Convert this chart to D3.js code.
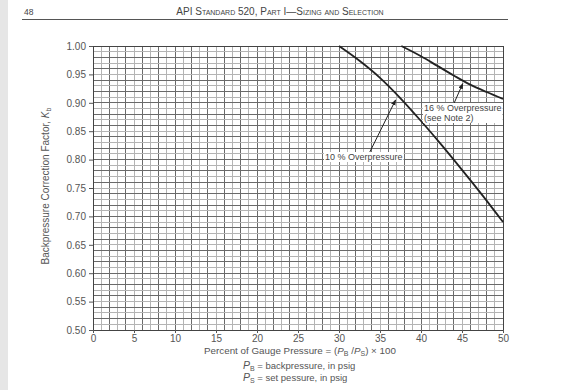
<!DOCTYPE html>
<html>
<head>
<meta charset="utf-8">
<script src="https://cdn.jsdelivr.net/npm/d3@7"></script>
<style>
  body { margin: 0; background: #fff; }
  svg { display: block; font-family: "Liberation Sans", Arial, sans-serif; }
  .tick text { font-size: 10px; fill: #555; }
</style>
</head>
<body>
<div id="chart"></div>
<script>
// chart values
const xTicks = [0, 5, 10, 15, 20, 25, 30, 35, 40, 45, 50];
const yTicks = [0.50, 0.55, 0.60, 0.65, 0.70, 0.75, 0.80, 0.85, 0.90, 0.95, 1.00];
const over10X = [30, 32.5, 35, 37.5, 40, 42.5, 45, 47.5, 50];
const over10Y = [1.0, 0.974, 0.944, 0.908, 0.868, 0.826, 0.782, 0.737, 0.69];
const over16X = [37.6, 40, 42, 44, 46, 48, 50];
const over16Y = [1.0, 0.982, 0.965, 0.948, 0.932, 0.919, 0.907];

const width = 569, height = 390;
const svg = d3.select("#chart").append("svg")
    .attr("width", width)
    .attr("height", height);

// page edge
svg.append("rect").attr("x", 0).attr("y", 0).attr("width", 8).attr("height", height).attr("fill", "#e6e6e6");

// running header
svg.append("text").attr("x", 24).attr("y", 15).attr("font-size", 8.5).attr("fill", "#444").text("48");
svg.append("text").attr("x", 280).attr("y", 15).attr("font-size", 10).attr("fill", "#444")
    .attr("text-anchor", "middle").style("font-variant", "small-caps")
    .text("API Standard 520, Part I\u2014Sizing and Selection");
svg.append("line").attr("x1", 22).attr("x2", 508).attr("y1", 19.5).attr("y2", 19.5)
    .attr("stroke", "#555").attr("stroke-width", 1);

const x = d3.scaleLinear().domain([0, 50]).range([93, 503]);
const y = d3.scaleLinear().domain([0.5, 1.0]).range([330, 46]);

// grid
const grid = svg.append("g").attr("shape-rendering", "crispEdges");
d3.range(1, 50).forEach(function(v) {
    grid.append("line")
        .attr("x1", x(v)).attr("x2", x(v)).attr("y1", y(0.5)).attr("y2", y(1.0))
        .attr("stroke", v % 2 === 0 ? "#6a6a6a" : "#b4b4b4");
});
d3.range(51, 100).forEach(function(v) {
    grid.append("line")
        .attr("x1", x(0)).attr("x2", x(50)).attr("y1", y(v / 100)).attr("y2", y(v / 100))
        .attr("stroke", v % 2 === 0 ? "#6a6a6a" : "#b4b4b4");
});
grid.append("rect")
    .attr("x", x(0)).attr("y", y(1.0))
    .attr("width", x(50) - x(0)).attr("height", y(0.5) - y(1.0))
    .attr("fill", "none").attr("stroke", "#444");

// axes
const axisX = d3.axisBottom(x).tickValues(xTicks).tickSize(3).tickFormat(d3.format("d"));
const axisY = d3.axisLeft(y).tickValues(yTicks).tickSize(4).tickFormat(d3.format(".2f"));

svg.append("g")
    .attr("transform", "translate(0," + y(0.5) + ")")
    .call(axisX)
    .call(g => g.select(".domain").remove())
    .call(g => g.selectAll(".tick line").attr("stroke", "#555"))
    .call(g => g.selectAll(".tick text").attr("y", 5));

svg.append("g")
    .attr("transform", "translate(" + x(0) + ",0)")
    .call(axisY)
    .call(g => g.select(".domain").remove())
    .call(g => g.selectAll(".tick line").attr("stroke", "#555"))
    .call(g => g.selectAll(".tick text").attr("x", -7));

// curves
const line = d3.line()
    .x(d => x(d[0]))
    .y(d => y(d[1]))
    .curve(d3.curveMonotoneX);

svg.append("path")
    .attr("d", line(d3.zip(over10X, over10Y)))
    .attr("fill", "none").attr("stroke", "#222").attr("stroke-width", 1.8);
svg.append("path")
    .attr("d", line(d3.zip(over16X, over16Y)))
    .attr("fill", "none").attr("stroke", "#222").attr("stroke-width", 1.8);

// callouts
svg.append("defs").append("marker")
    .attr("id", "arrow").attr("viewBox", "0 0 10 10")
    .attr("refX", 9).attr("refY", 5)
    .attr("markerWidth", 6).attr("markerHeight", 6)
    .attr("orient", "auto")
    .append("path").attr("d", "M0,1L10,5L0,9z").attr("fill", "#222");

function label(lines, lx, ly) {
    const g = svg.append("g");
    const t = g.append("text").attr("font-size", 9).attr("fill", "#444");
    lines.forEach(function(s, i) {
        t.append("tspan").attr("x", lx).attr("y", ly + i * 10).text(s);
    });
    const b = t.node().getBBox();
    g.insert("rect", "text")
        .attr("x", b.x - 1).attr("y", b.y).attr("width", b.width + 2).attr("height", b.height)
        .attr("fill", "#fff");
}

svg.append("line")
    .attr("x1", x(33.3)).attr("y1", y(0.8)).attr("x2", x(36.9)).attr("y2", y(0.905))
    .attr("stroke", "#222").attr("marker-end", "url(#arrow)");
label(["10 % Overpressure"], 325, 160);

svg.append("line")
    .attr("x1", x(43.9)).attr("y1", y(0.895)).attr("x2", x(45.1)).attr("y2", y(0.934))
    .attr("stroke", "#222").attr("marker-end", "url(#arrow)");
label(["16 % Overpressure", "(see Note 2)"], 424, 111);

// axis titles
const yTitle = svg.append("text")
    .attr("transform", "translate(49,186) rotate(-90)")
    .attr("text-anchor", "middle").attr("font-size", 10).attr("fill", "#555");
yTitle.append("tspan").text("Backpressure Correction Factor, ");
yTitle.append("tspan").attr("font-style", "italic").text("K");
yTitle.append("tspan").attr("font-size", 7).attr("dy", 2).text("b");

const xTitle = svg.append("text")
    .attr("x", 300).attr("y", 354)
    .attr("text-anchor", "middle").attr("font-size", 9.8).attr("fill", "#555");
xTitle.append("tspan").text("Percent of Gauge Pressure = (");
xTitle.append("tspan").attr("font-style", "italic").text("P");
xTitle.append("tspan").attr("font-size", 7).attr("dy", 2).text("B");
xTitle.append("tspan").attr("dy", -2).text(" /");
xTitle.append("tspan").attr("font-style", "italic").text("P");
xTitle.append("tspan").attr("font-size", 7).attr("dy", 2).text("S");
xTitle.append("tspan").attr("dy", -2).text(") \u00d7 100");

function note(sub, desc, ny) {
    const t = svg.append("text").attr("x", 243).attr("y", ny)
        .attr("font-size", 9.5).attr("fill", "#555");
    t.append("tspan").attr("font-style", "italic").attr("font-size", 10.5).text("P");
    t.append("tspan").attr("font-size", 7).attr("dy", 2).text(sub);
    t.append("tspan").attr("dy", -2).text(" = " + desc);
}
note("B", "backpressure, in psig", 369);
note("S", "set pessure, in psig", 381);
</script>
</body>
</html>
